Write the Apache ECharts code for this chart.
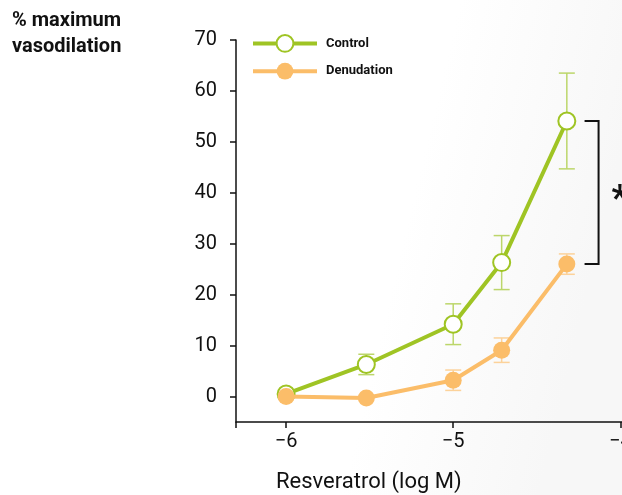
<!DOCTYPE html>
<html>
<head>
<meta charset="utf-8">
<script src="https://cdn.jsdelivr.net/npm/echarts@6/dist/echarts.min.js"></script>
<style>
    html, body { margin: 0; padding: 0; }
    #chart { width: 622px; height: 495px; }
</style>
</head>
<body>
<div id="chart"></div>
<script>
    // log molar concentrations of resveratrol
    var xValues = [-6, -5.52, -5, -4.71, -4.32];
    var controlMean = [0.5, 6.3, 14.2, 26.3, 54.1];
    var controlErr = [0, 2.0, 4.0, 5.3, 9.4];
    var denudMean = [0, -0.3, 3.2, 9.1, 26.0];
    var denudErr = [0, 0, 2.0, 2.4, 2.0];
    var xTicks = [-6, -5, -4];
    var yTicks = [0, 10, 20, 30, 40, 50, 60, 70];
    // bracket between the two highest points
    var bracket = [[-4.13, 54.1, 26.0]];

    var font = 'Roboto, "DejaVu Sans", sans-serif';
    var green = '#9fc424';
    var orange = '#fbbd69';

    function pairs(xs, ys) {
        return xs.map(function (x, i) { return [x, ys[i]]; });
    }
    function errData(xs, ys, es) {
        return xs.map(function (x, i) { return [x, ys[i] - es[i], ys[i] + es[i]]; });
    }
    function errRender(color) {
        return function (params, api) {
            if (api.value(2) - api.value(1) <= 0) return;
            var lo = api.coord([api.value(0), api.value(1)]);
            var hi = api.coord([api.value(0), api.value(2)]);
            var w = 8;
            var st = { stroke: color, lineWidth: 1.5 };
            return {
                type: 'group',
                children: [
                    { type: 'line', shape: { x1: lo[0], y1: lo[1], x2: hi[0], y2: hi[1] }, style: st },
                    { type: 'line', shape: { x1: lo[0] - w, y1: lo[1], x2: lo[0] + w, y2: lo[1] }, style: st },
                    { type: 'line', shape: { x1: hi[0] - w, y1: hi[1], x2: hi[0] + w, y2: hi[1] }, style: st }
                ]
            };
        };
    }

    var myChart = echarts.init(document.getElementById('chart'));
    var option = {
        backgroundColor: {
            type: 'linear', x: 0, y: 0, x2: 1, y2: 0.3,
            colorStops: [{ offset: 0, color: '#ffffff' }, { offset: 0.7, color: '#ffffff' }, { offset: 1, color: '#f7f7f7' }]
        },
        animation: false,
        title: [{
            text: '% maximum\nvasodilation',
            left: 7, top: 3,
            textStyle: { fontFamily: font, fontWeight: 'bold', fontSize: 20, lineHeight: 26, color: '#111' }
        }, {
            text: 'Resveratrol (log M)',
            left: 271, top: 466,
            textStyle: { fontFamily: font, fontWeight: 'normal', fontSize: 22, color: '#111' }
        }],
        legend: {
            orient: 'vertical',
            left: 246, top: 29,
            itemWidth: 64, itemHeight: 21, itemGap: 10,
            data: ['Control', 'Denudation'],
            lineStyle: { width: 4 },
            textStyle: { fontFamily: font, fontWeight: 'bold', fontSize: 13, color: '#111', padding: [0, 0, 0, 4] }
        },
        grid: { left: 236, top: 40, width: 401, bottom: 73, outerBoundsMode: 'none' },
        xAxis: {
            type: 'value',
            min: -6.3, max: -3.9,
            axisLine: { onZero: false, lineStyle: { color: '#111', width: 1.5 } },
            axisTick: { length: 6, lineStyle: { color: '#111', width: 1.5 }, customValues: [-6.3].concat(xTicks) },
            axisLabel: {
                customValues: xTicks, margin: 10,
                fontFamily: font, fontSize: 20, color: '#111',
                formatter: function (v) { return String(v).replace('-', '\u2212'); }
            },
            splitLine: { show: false }
        },
        yAxis: {
            type: 'value',
            min: -5, max: 70,
            axisLine: { show: true, lineStyle: { color: '#111', width: 1.5 } },
            axisTick: { show: true, length: 6, lineStyle: { color: '#111', width: 1.5 }, customValues: yTicks },
            axisLabel: { customValues: yTicks, margin: 19, fontFamily: font, fontSize: 20, color: '#111' },
            splitLine: { show: false }
        },
        series: [{
            type: 'custom', name: 'ctrlErr', silent: true,
            renderItem: errRender('#bcd66a'),
            data: errData(xValues, controlMean, controlErr), z: 1
        }, {
            type: 'custom', name: 'denErr', silent: true,
            renderItem: errRender('#fcd29a'),
            data: errData(xValues, denudMean, denudErr), z: 1
        }, {
            name: 'Control', type: 'line',
            data: pairs(xValues, controlMean),
            symbol: 'circle', symbolSize: 17,
            lineStyle: { color: green, width: 4 },
            itemStyle: { color: '#fff', borderColor: green, borderWidth: 2 },
            z: 2
        }, {
            name: 'Denudation', type: 'line',
            data: pairs(xValues, denudMean),
            symbol: 'circle', symbolSize: 17,
            lineStyle: { color: orange, width: 4 },
            itemStyle: { color: orange },
            z: 3
        }, {
            type: 'custom', name: 'bracket', silent: true,
            renderItem: function (params, api) {
                var top = api.coord([api.value(0), api.value(1)]);
                var bot = api.coord([api.value(0), api.value(2)]);
                var st = { stroke: '#111', lineWidth: 2, fill: null };
                return {
                    type: 'group',
                    children: [
                        { type: 'polyline', shape: { points: [[top[0] - 14, top[1]], top, bot, [bot[0] - 14, bot[1]]] }, style: st },
                        { type: 'text', style: { text: '*', x: top[0] + 13, y: (top[1] + bot[1]) / 2 + 8, fontSize: 36, fontWeight: 'bold', fontFamily: font, fill: '#111', verticalAlign: 'middle' } }
                    ]
                };
            },
            data: bracket, z: 4
        }]
    };
    myChart.setOption(option);
</script>
</body>
</html>
